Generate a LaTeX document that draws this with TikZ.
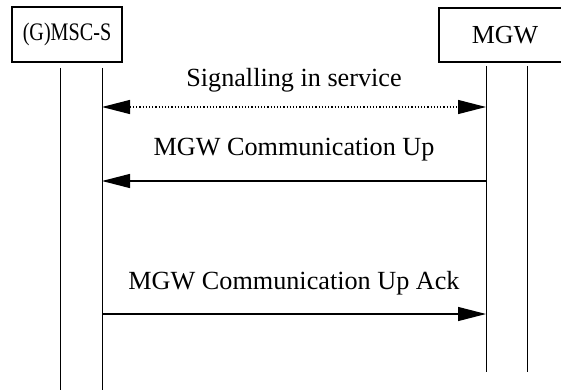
\documentclass[tikz,border=0pt]{standalone}
\usepackage{fontspec}
\usepackage{graphicx}
\setmainfont{Liberation Serif}
\usetikzlibrary{arrows.meta}

\tikzset{
  entity/.style={draw, line width=0.6pt, inner sep=0pt, font=\fontsize{13}{15}\selectfont},
  msg/.style={line width=0.6pt, -{Triangle[length=14pt, width=7pt]}},
  lbl/.style={font=\fontsize{13.1}{15}\selectfont}
}

\begin{document}
\begin{tikzpicture}[x=0.5pt, y=-0.5pt, line width=0.5pt]

\clip (0,0) rectangle (561,390);
\useasboundingbox (0,0) rectangle (561,390);

% Entities
\node[entity, minimum width=55pt, minimum height=27.5pt, font=\fontsize{12.6}{15}\selectfont] (msc) at (67,34.5) {\scalebox{0.8}[1]{(G)MSC-S}};
\node[entity, minimum width=66pt, minimum height=27pt] (mgw) at (505,35) {MGW};

% Lifelines of (G)MSC-S
\coordinate (mscA top) at (60,68);
\coordinate (mscA bot) at (60,390);
\coordinate (mscB top) at (102,68);
\coordinate (mscB bot) at (102,390);
\draw (mscA top) -- (mscA bot);
\draw (mscB top) -- (mscB bot);

% Lifelines of MGW
\coordinate (mgwA top) at (486,66);
\coordinate (mgwA bot) at (486,372);
\coordinate (mgwB top) at (527,66);
\coordinate (mgwB bot) at (527,372);
\draw (mgwA top) -- (mgwA bot);
\draw (mgwB top) -- (mgwB bot);

% Signalling in service
\coordinate (s1) at (102,107);
\coordinate (s2) at (486,107);
\draw[msg, densely dotted, {Triangle[length=14pt, width=7pt]}-{Triangle[length=14pt, width=7pt]}] (s1) -- (s2);
\node[lbl] (sig) at (294,80) {Signalling in service};

% MGW Communication Up
\coordinate (u1) at (486,181);
\coordinate (u2) at (102,181);
\draw[msg] (u1) -- (u2);
\node[lbl] (up) at (294,150) {MGW Communication Up};

% MGW Communication Up Ack
\coordinate (a1) at (102,314);
\coordinate (a2) at (486,314);
\draw[msg] (a1) -- (a2);
\node[lbl] (ack) at (294,283) {MGW Communication Up Ack};

\end{tikzpicture}
\end{document}
